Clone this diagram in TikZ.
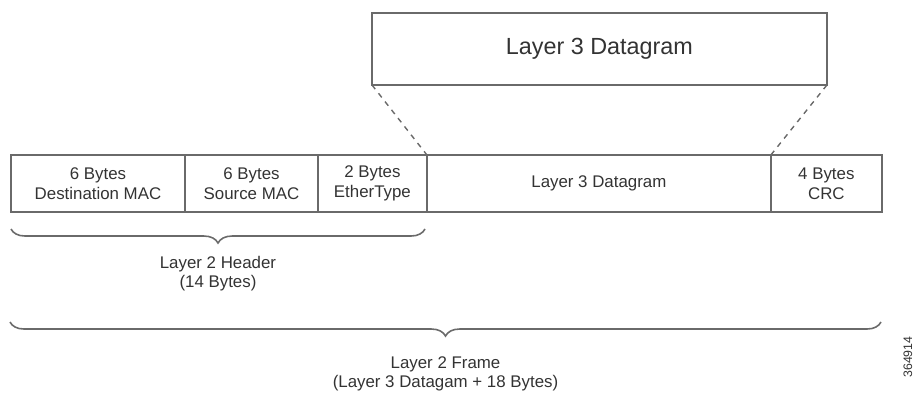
\documentclass[tikz,border=0pt]{standalone}
\usepackage{fontspec}
\setmainfont{Liberation Sans}
\usetikzlibrary{decorations.pathreplacing}
\definecolor{linegray}{HTML}{6A6A6A}
\definecolor{textgray}{HTML}{333333}

\begin{document}
\begin{tikzpicture}[x=0.02cm, y=-0.02cm,
  field/.style={draw=linegray, line width=0.8pt, minimum height=1.14cm, inner sep=0pt, outer sep=0pt,
    anchor=north west, text=textgray, align=center, font=\fontsize{9.6}{11.3}\selectfont},
  brc/.style={decorate, decoration={brace, amplitude=8pt, mirror}, draw=linegray, line width=0.9pt},
  lbl/.style={text=textgray, align=center, font=\fontsize{9.6}{10.8}\selectfont}]
  \useasboundingbox (0,0) rectangle (919,392);
  % zoomed datagram
  \node[field, minimum width=9.1cm, minimum height=1.44cm, font=\fontsize{13.3}{15}\selectfont] (dgram) at (372,13) {Layer 3 Datagram};
  % frame fields
  \node[field, minimum width=3.48cm] (dst) at (11,155) {6 Bytes\\Destination MAC};
  \node[field, minimum width=2.66cm] (src) at (dst.north east) {6 Bytes\\Source MAC};
  \node[field, minimum width=2.18cm] (etype) at (src.north east) {2 Bytes\\EtherType};
  \node[field, minimum width=6.88cm] (l3) at (etype.north east) {Layer 3 Datagram};
  \node[field, minimum width=2.22cm] (crc) at (l3.north east) {4 Bytes\\CRC};
  \draw[linegray, dashed, line width=0.8pt] (dgram.south west) -- (l3.north west);
  \draw[linegray, dashed, line width=0.8pt] (dgram.south east) -- (l3.north east);
  % braces
  \coordinate (h1) at (11,229);
  \coordinate (h2) at (425,229);
  \draw[brc] (h1) -- (h2) node[midway, below=12pt, lbl] (hdr) {Layer 2 Header\\(14 Bytes)};
  \coordinate (f1) at (10,322);
  \coordinate (f2) at (881,322);
  \draw[brc] (f1) -- (f2) node[midway, below=16pt, lbl] (frm) {Layer 2 Frame\\(Layer 3 Datagam + 18 Bytes)};
  \node[rotate=90, text=textgray, font=\fontsize{7}{8}\selectfont] (fig) at (908,357) {364914};
\end{tikzpicture}
\end{document}
